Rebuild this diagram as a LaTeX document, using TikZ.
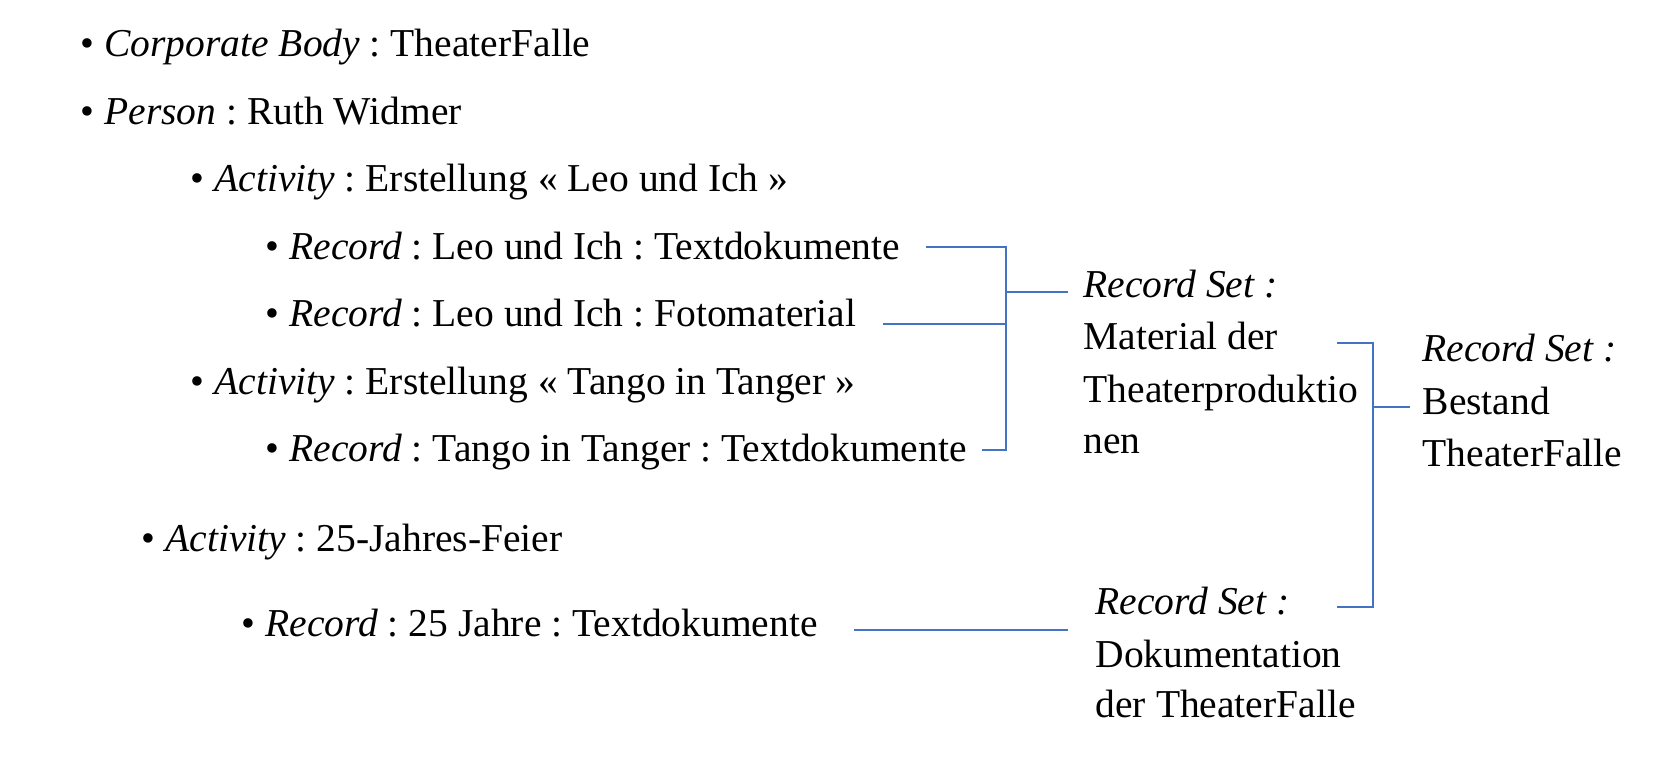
\documentclass[tikz,border=0pt]{standalone}
\usepackage{fontspec}
\setmainfont{Liberation Serif}
\usetikzlibrary{calc, positioning}
\definecolor{linkblue}{RGB}{68,114,196}
\frenchspacing
\tikzset{item/.style={anchor=base west, inner sep=0pt, font=\fontsize{12.25}{14}\selectfont},
  link/.style={draw=linkblue, line width=0.6pt}}

\begin{document}
\begin{tikzpicture}[x=0.31pt, y=-0.31pt]
\useasboundingbox (0,0) rectangle (1672,772);
\foreach \n/\x/\y/\k/\t in {l1/80/57/Corporate Body/TheaterFalle, l2/80/124.5/Person/Ruth Widmer,
  l3/190/192/Activity/Erstellung « Leo und Ich », l4/265/259.5/Record/Leo und Ich : Textdokumente,
  l5/265/327/Record/Leo und Ich : Fotomaterial, l6/190/394.5/Activity/Erstellung « Tango in Tanger »,
  l7/265/462/Record/Tango in Tanger : Textdokumente, l8/141/552/Activity/25-Jahres-Feier,
  l9/241/637/Record/25 Jahre : Textdokumente}
  {\node[item] (\n) at (\x,\y) {\textbullet\ \textit{\k} : \t};}
\node[item] (rs1) at (1083,298) {\textit{Record Set :}};
\node[item] at (1083,350) {Material der};
\node[item] at (1083,403) {Theaterproduktio};
\node[item] at (1083,454) {nen};
\node[item] (rs2) at (1422,362) {\textit{Record Set :}};
\node[item] at (1422,415) {Bestand};
\node[item] at (1422,467) {TheaterFalle};
\node[item] (rs3) at (1095,615) {\textit{Record Set :}};
\node[item] at (1095,668) {Dokumentation};
\node[item] at (1095,718) {der TheaterFalle};
\coordinate (s4) at (926,247);
\coordinate (s5) at (883,324);
\coordinate (s7) at (982,450);
\coordinate (j1) at (1006,292);
\draw[link] (s4) -| (j1) |- (s7);
\draw[link] (s5) -- (s5 -| j1);
\draw[link] (j1) -- ($(j1 -| rs1.west)+(-15,0)$);
\coordinate (m1) at (1337,343);
\coordinate (m3) at (1337,607);
\coordinate (j2) at (1373,407);
\draw[link] (m1) -| (j2) |- (m3);
\draw[link] (j2) -- ($(j2 -| rs2.west)+(-12,0)$);
\coordinate (s9) at (854,630);
\draw[link] (s9) -- ($(s9 -| rs3.west)+(-27,0)$);
\end{tikzpicture}
\end{document}
